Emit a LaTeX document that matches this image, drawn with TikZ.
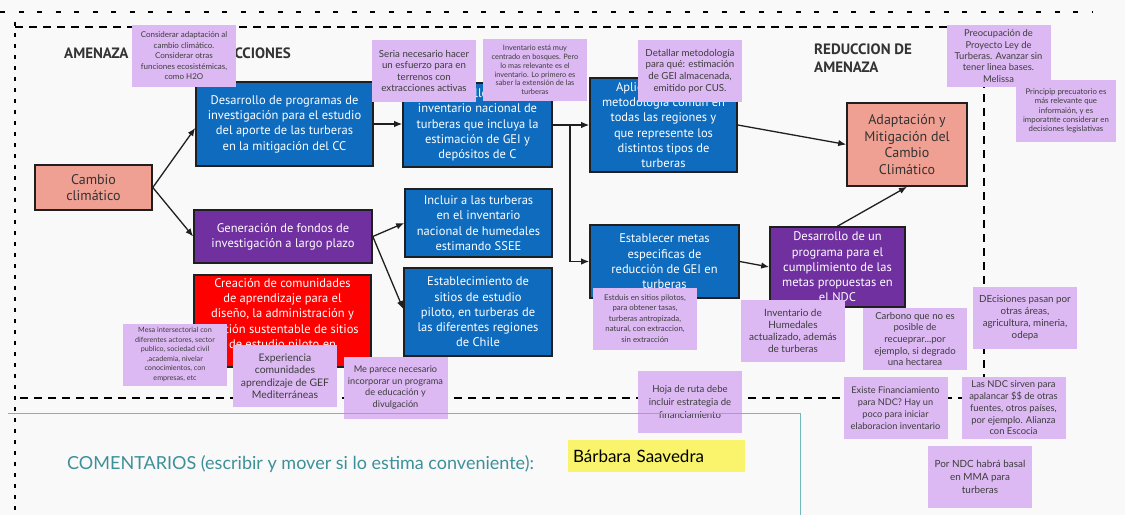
\documentclass[tikz,border=0pt]{standalone}
\usepackage{fontspec}
\setmainfont{PT Sans}
\newfontfamily\notefont{Lato}
\usetikzlibrary{arrows.meta,calc}
\definecolor{bgcol}{HTML}{F9F9F9}
\definecolor{boxblue}{HTML}{0E6BBE}
\definecolor{boxpurple}{HTML}{7030A0}
\definecolor{boxred}{HTML}{FF0000}
\definecolor{salmon}{HTML}{F0A092}
\definecolor{edgecol}{HTML}{1F1F1F}
\definecolor{notelav}{HTML}{DDB9F3}
\definecolor{notetext}{HTML}{3C3C3C}
\definecolor{headcol}{HTML}{333333}
\definecolor{tealline}{HTML}{73B9BC}
\definecolor{tealtext}{HTML}{3D9099}
\definecolor{stickyyellow}{HTML}{F9F46C}
\newcommand\fsz[2]{\fontsize{#1}{#2}\selectfont}
\begin{document}
\begin{tikzpicture}[x=1pt,y=-1pt,
  box/.style={draw=edgecol, line width=1.6pt, align=center, inner sep=1pt,
    text=white, font=\fsz{12.5}{15.3}},
  bluebox/.style={box, fill=boxblue},
  purplebox/.style={box, fill=boxpurple},
  redbox/.style={box, fill=boxred},
  salmonbox/.style={box, fill=salmon, text=headcol, font=\fsz{14}{16.7}},
  note/.style 2 args={fill=notelav, text=notetext, align=center, inner sep=0pt,
    minimum width=104pt, minimum height=62pt, font=\notefont\fsz{#1}{#2}},
  heading/.style={text=headcol, inner sep=0pt, font=\bfseries\fsz{15}{18}},
  arr/.style={draw=edgecol, line width=1.3pt, -{Latex[length=8pt,width=6.5pt]}},
  framedash/.style={draw=black, line width=2.4pt, dash pattern=on 8pt off 6pt},
]
\useasboundingbox (0,0) rectangle (1125,515);
\fill[bgcol] (0,0) rectangle (1125,515);

% outer dotted line and dashed frame
\draw[line width=2.8pt, dash pattern=on 5pt off 13.5pt] (0,12) -- (1092,12);
\draw[framedash] (15,27) -- (984,27) -- (984,398) -- (15,398);
\draw[line width=2.4pt, dash pattern=on 4pt off 7pt] (15,22) -- (15,515);

% column headings
\node[heading, anchor=west] (hamen) at (64,53) {AMENAZA};
\node[heading, anchor=east] (hacc) at (291,53) {ACCIONES};
\node[heading, anchor=north west, align=left] (hred) at (814,44) {REDUCCION DE\\AMENAZA};

% action boxes
\node[salmonbox, minimum width=117pt, minimum height=45pt] (cambio) at (93.5,187.5) {Cambio\\climático};
\node[bluebox, minimum width=177pt, minimum height=84pt] (prog) at (284.5,124)
  {Desarrollo de programas de\\investigación para el estudio\\del aporte de las turberas\\en la mitigación del CC};
\node[purplebox, minimum width=178pt, minimum height=53pt] (gen) at (283,236.5)
  {Generación de fondos de\\investigación a largo plazo};
\node[redbox, minimum width=177pt, minimum height=92pt] (crea) at (282.5,321)
  {Creación de comunidades\\de aprendizaje para el\\diseño, la administración y\\gestión sustentable de sitios\\de estudio piloto en\\turberas};
\node[bluebox, minimum width=149pt, minimum height=84pt] (inv) at (477.5,125)
  {Desarrollo de un\\inventario nacional de\\turberas que incluya la\\estimación de GEI y\\depósitos de C};
\node[bluebox, minimum width=147pt, minimum height=68pt] (incl) at (478.5,223)
  {Incluir a las turberas\\en el inventario\\nacional de humedales\\estimando SSEE};
\node[bluebox, minimum width=148pt, minimum height=88pt] (estab) at (478,312)
  {Establecimiento de\\sitios de estudio\\piloto, en turberas de\\las diferentes regiones\\de Chile};
\node[bluebox, minimum width=147pt, minimum height=94pt] (apl) at (663.5,125)
  {Aplicación de una\\metodología común en\\todas las regiones y\\que represente los\\distintos tipos de\\turberas};
\node[bluebox, minimum width=149pt, minimum height=73pt] (metas) at (664.5,261.5)
  {Establecer metas\\especificas de\\reducción de GEI en\\turberas};
\node[purplebox, minimum width=135pt, minimum height=80pt] (ndc) at (837.5,267)
  {Desarrollo de un\\programa para el\\cumplimiento de las\\metas propuestas en\\el NDC};
\node[salmonbox, minimum width=120pt, minimum height=83pt] (adapt) at (907,144.5)
  {Adaptación y\\Mitigación del\\Cambio\\Climático};

% connectors
\coordinate (split) at ($(inv.east)!0.47!(apl.west)$);
\draw[arr] (cambio.east) -- ($(prog.west)+(0,4)$);
\draw[arr] (cambio.east) -- (gen.west);
\draw[arr] (prog.east) -- (prog.east -| inv.west);
\draw[arr] (gen.east) -- (incl.west);
\draw[arr] (gen.east) -- ($(estab.west)+(0,-3)$);
\draw[arr] (inv.east) -- (apl.west);
\draw[arr] (split) |- (metas.west);
\draw[arr] (apl.east) -- (adapt.west);
\draw[arr] (metas.east) -- (ndc.west);
\draw[arr] (ndc.north) -- (adapt.south);

% sticky notes
\node[note={8}{10.5}] (n1) at (184,56)
  {Considerar adaptación al\\cambio climático.\\Considerar otras\\funciones ecosistémicas,\\como H2O};
\node[note={9.7}{11.5}] (n2) at (424,71)
  {Seria necesario hacer\\un esfuerzo para en\\terrenos con\\extracciones activas};
\node[note={7.4}{8.8}] (n3) at (535,70)
  {Inventario está muy\\centrado en bosques. Pero\\lo mas relevante es el\\inventario. Lo primero es\\saber la extensión de las\\turberas};
\node[note={9.7}{11.7}] (n4) at (690,71)
  {Detallar metodología\\para qué: estimación\\de GEI almacenada,\\emitido por CUS.};
\node[note={9.4}{11.3}] (n5) at (998.5,56)
  {Preocupación de\\Proyecto Ley de\\Turberas. Avanzar sin\\tener linea bases.\\Melissa};
\node[note={7.8}{9.2}, minimum width=100pt] (n6) at (1066,111)
  {Principip precuatorio es\\más relevante que\\informaión, y es\\imporatnte considerar en\\decisiones legislativas};
\node[note={7.2}{9.5}] (n7) at (175,354.5)
  {Mesa intersectorial con\\diferentes actores, sector\\publico, sociedad civil\\,academia, nivelar\\conocimientos, con\\empresas, etc};
\node[note={10.4}{12.5}] (n8) at (285,376)
  {Experiencia\\comunidades\\aprendizaje de GEF\\Mediterráneas};
\node[note={9.2}{11.6}] (n9) at (395.5,387.5)
  {Me parece necesario\\incorporar un programa\\de educación y\\divulgación};
\node[note={7.8}{10.6}] (n10) at (645,318.5)
  {Estduis en sitios pilotos,\\para obtener tasas,\\turberas antropizada,\\natural, con extraccion,\\sin extracción};
\node[note={10}{12}] (n11) at (793,331)
  {Inventario de\\Humedales\\actualizado, además\\de turberas};
\node[note={9.6}{12.7}] (n12) at (690,402)
  {Hoja de ruta debe\\incluir estrategia de\\financiamiento};
\node[note={9.6}{11.7}] (n13) at (915,339)
  {Carbono que no es\\posible de\\recueprar...por\\ejemplo, si degrado\\una hectarea};
\node[note={9.8}{12}] (n14) at (1025,318)
  {DEcisiones pasan por\\otras áreas,\\agricultura, mineria,\\odepa};
\node[note={9.2}{12}] (n15) at (895.5,408)
  {Existe Financiamiento\\para NDC? Hay un\\poco para iniciar\\elaboracion inventario};
\node[note={9.4}{11.7}] (n16) at (1013.5,408)
  {Las NDC sirven para\\apalancar \$\$ de otras\\fuentes, otros países,\\por ejemplo. Alianza\\con Escocia};
\node[note={9.9}{13}] (n17) at (980,477)
  {Por NDC habrá basal\\en MMA para\\turberas};

% comments area
\draw[tealline, line width=1pt] (8,413) -- (800,413) -- (800,515);
\node[anchor=west, inner sep=0pt, text=tealtext, font=\notefont\fsz{18}{21}] (coment) at (67,464)
  {COMENTARIOS (escribir y mover si lo estima conveniente):};
\node[fill=stickyyellow, minimum width=177pt, minimum height=32pt, text width=167pt,
  inner xsep=5pt, align=left, font=\notefont\fsz{17}{20}, text=black] (barbara) at (656.5,456)
  {Bárbara Saavedra};
\end{tikzpicture}
\end{document}
